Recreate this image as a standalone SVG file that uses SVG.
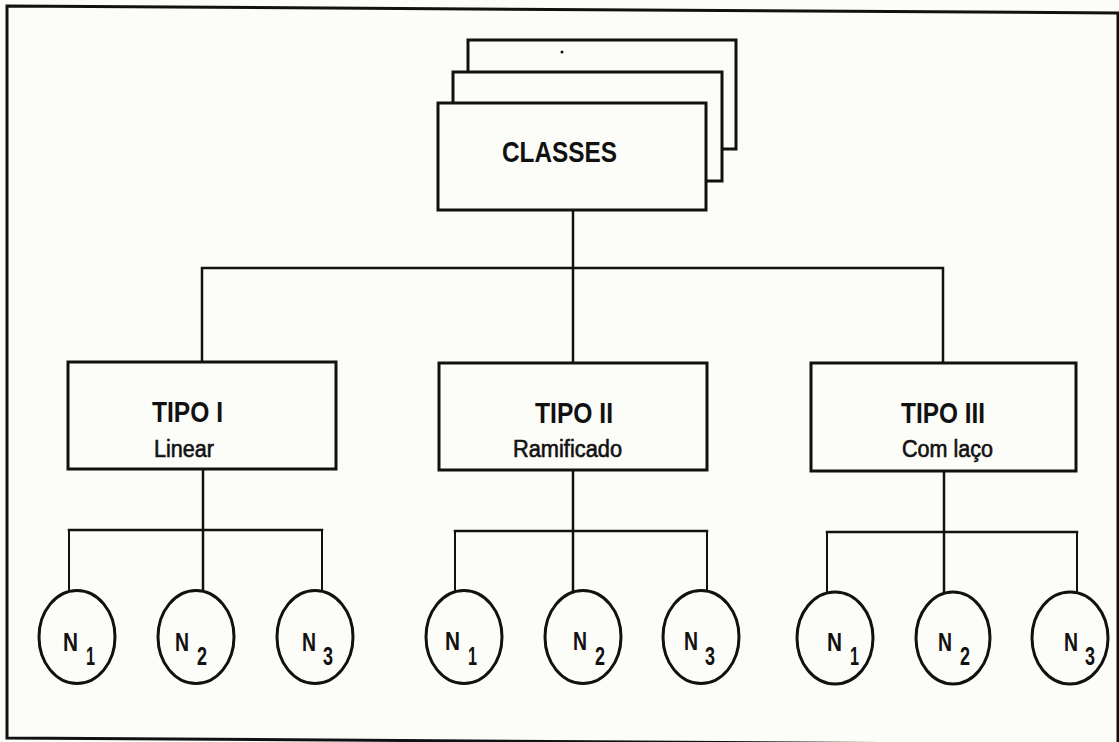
<svg xmlns="http://www.w3.org/2000/svg" width="1119" height="742" viewBox="0 0 1119 742">
<style>
.box{fill:#fcfcf8;stroke:#111;stroke-width:3}
.node{fill:#fcfcf8;stroke:#111;stroke-width:3}
.conn{fill:none;stroke:#111;stroke-width:2.5;stroke-linecap:square}
.thin{stroke-width:2}
.t{font-family:"Liberation Sans",Arial,sans-serif;fill:#111}
.big{font-size:30px;font-weight:bold}
.sub{font-size:23px;stroke:#111;stroke-width:0.6}
.n{font-size:25px;font-weight:bold}
</style>
<rect x="0" y="0" width="1119" height="742" fill="#fcfcf8"/>
<polygon points="7,6 1118,13 1118,745 7,738" fill="none" stroke="#111" stroke-width="3"/>
<g id="connectors">
<path class="conn" d="M573,210 V268 M202,268 H943 M202,268 V362 M573,268 V363 M943,268 V363"/>
<path class="conn" d="M203,469 V590 M69,530 H322"/>
<path class="conn thin" d="M69,530 V591 M322,530 V591"/>
<path class="conn" d="M573,470 V590 M455,531 H707"/>
<path class="conn thin" d="M455,531 V591 M707,531 V591"/>
<path class="conn" d="M944,471 V592 M827,532 H1077"/>
<path class="conn thin" d="M827,532 V593 M1077,532 V593"/>
</g>
<g id="classes">
<rect class="box" x="468" y="40" width="268" height="109"/>
<circle cx="562" cy="52" r="1.5" fill="#111"/>
<rect class="box" x="453" y="72" width="269" height="109"/>
<rect class="box" x="438" y="103" width="268" height="107"/>
<text class="t big" x="502" y="162" textLength="115" lengthAdjust="spacingAndGlyphs">CLASSES</text>
</g>
<g id="tipo1">
<rect class="box" x="68" y="362" width="268" height="107"/>
<text class="t big" x="152" y="422" textLength="71" lengthAdjust="spacingAndGlyphs">TIPO I</text>
<text class="t sub" x="154" y="457" textLength="60" lengthAdjust="spacingAndGlyphs">Linear</text>
</g>
<g id="tipo2">
<rect class="box" x="439" y="363" width="268" height="107"/>
<text class="t big" x="535" y="423" textLength="78" lengthAdjust="spacingAndGlyphs">TIPO II</text>
<text class="t sub" x="513" y="457" textLength="109" lengthAdjust="spacingAndGlyphs">Ramificado</text>
</g>
<g id="tipo3">
<rect class="box" x="811" y="363" width="265" height="108"/>
<text class="t big" x="901" y="423" textLength="84" lengthAdjust="spacingAndGlyphs">TIPO III</text>
<text class="t sub" x="902" y="457" textLength="91" lengthAdjust="spacingAndGlyphs">Com laço</text>
</g>
<g id="g1n1"><ellipse class="node" cx="77" cy="637" rx="38" ry="46.5"/><text class="t n" x="63" y="651" textLength="15" lengthAdjust="spacingAndGlyphs">N</text><text class="t n" x="86" y="665" textLength="9" lengthAdjust="spacingAndGlyphs">1</text></g>
<g id="g1n2"><ellipse class="node" cx="196" cy="637" rx="38" ry="46.5"/><text class="t n" x="175" y="651" textLength="14" lengthAdjust="spacingAndGlyphs">N</text><text class="t n" x="197" y="665" textLength="10" lengthAdjust="spacingAndGlyphs">2</text></g>
<g id="g1n3"><ellipse class="node" cx="315" cy="637" rx="38" ry="46.5"/><text class="t n" x="302" y="651" textLength="14" lengthAdjust="spacingAndGlyphs">N</text><text class="t n" x="323" y="665" textLength="10" lengthAdjust="spacingAndGlyphs">3</text></g>
<g id="g2n1"><ellipse class="node" cx="464" cy="637" rx="38" ry="46.5"/><text class="t n" x="445" y="650" textLength="15" lengthAdjust="spacingAndGlyphs">N</text><text class="t n" x="468" y="665" textLength="9" lengthAdjust="spacingAndGlyphs">1</text></g>
<g id="g2n2"><ellipse class="node" cx="583" cy="637" rx="38" ry="46.5"/><text class="t n" x="573" y="650" textLength="14" lengthAdjust="spacingAndGlyphs">N</text><text class="t n" x="595" y="665" textLength="10" lengthAdjust="spacingAndGlyphs">2</text></g>
<g id="g2n3"><ellipse class="node" cx="701" cy="637" rx="38" ry="46.5"/><text class="t n" x="684" y="650" textLength="14" lengthAdjust="spacingAndGlyphs">N</text><text class="t n" x="705" y="665" textLength="10" lengthAdjust="spacingAndGlyphs">3</text></g>
<g id="g3n1"><ellipse class="node" cx="835" cy="638" rx="38" ry="46"/><text class="t n" x="827" y="651" textLength="15" lengthAdjust="spacingAndGlyphs">N</text><text class="t n" x="850" y="665" textLength="9" lengthAdjust="spacingAndGlyphs">1</text></g>
<g id="g3n2"><ellipse class="node" cx="953" cy="638" rx="37" ry="46"/><text class="t n" x="938" y="651" textLength="14" lengthAdjust="spacingAndGlyphs">N</text><text class="t n" x="960" y="665" textLength="10" lengthAdjust="spacingAndGlyphs">2</text></g>
<g id="g3n3"><ellipse class="node" cx="1070" cy="638" rx="38" ry="46"/><text class="t n" x="1064" y="651" textLength="14" lengthAdjust="spacingAndGlyphs">N</text><text class="t n" x="1085" y="665" textLength="10" lengthAdjust="spacingAndGlyphs">3</text></g>
</svg>
